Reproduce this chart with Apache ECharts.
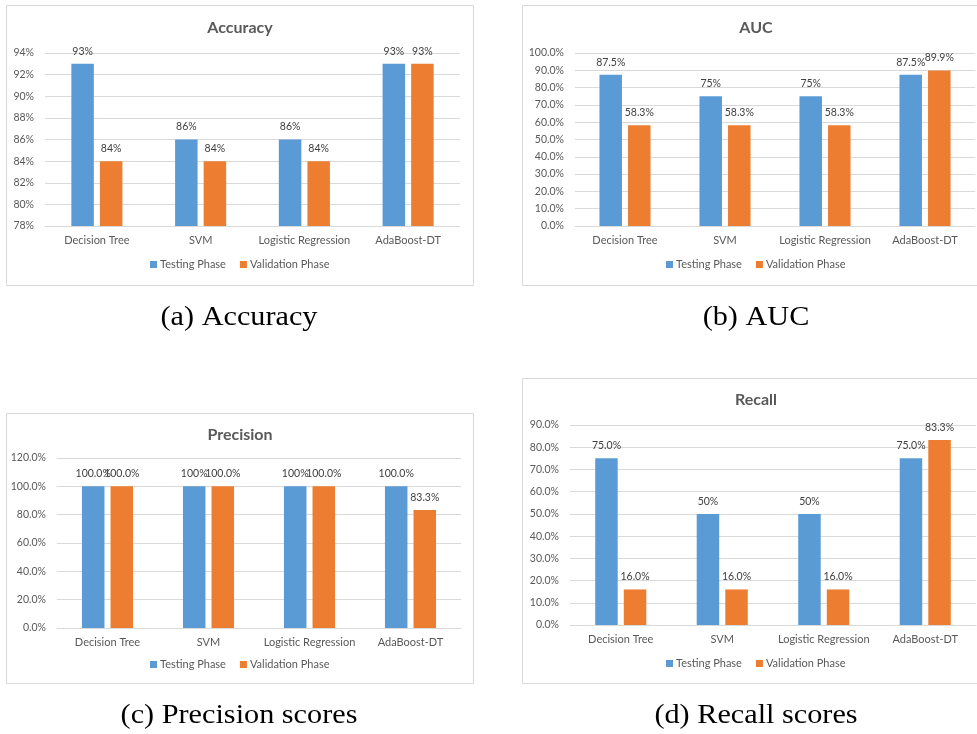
<!DOCTYPE html>
<html>
<head>
<meta charset="utf-8">
<title>Model evaluation metrics</title>
<script src="https://cdn.jsdelivr.net/npm/echarts@6/dist/echarts.min.js"></script>
<style>
  html, body { margin: 0; padding: 0; background: #ffffff; }
  #chart { width: 977px; height: 734px; }
</style>
</head>
<body>
<div id="chart"></div>
<script>
// Models compared in every panel
const categories = ['Decision Tree', 'SVM', 'Logistic Regression', 'AdaBoost-DT'];
const seriesNames = ['Testing Phase', 'Validation Phase'];

// Accuracy (%)
const accuracyTesting = [93, 86, 86, 93];
const accuracyValidation = [84, 84, 84, 93];
const accuracyTestingDecimals = [0, 0, 0, 0];
const accuracyValidationDecimals = [0, 0, 0, 0];

// AUC (%)
const aucTesting = [87.5, 75, 75, 87.5];
const aucValidation = [58.3, 58.3, 58.3, 89.9];
const aucTestingDecimals = [1, 0, 0, 1];
const aucValidationDecimals = [1, 1, 1, 1];

// Precision (%)
const precisionTesting = [100, 100, 100, 100];
const precisionValidation = [100, 100, 100, 83.3];
const precisionTestingDecimals = [1, 0, 0, 1];
const precisionValidationDecimals = [1, 1, 1, 1];

// Recall (%)
const recallTesting = [75, 50, 50, 75];
const recallValidation = [16, 16, 16, 83.3];
const recallTestingDecimals = [1, 0, 0, 1];
const recallValidationDecimals = [1, 1, 1, 1];

// Value-axis ranges: [min, max, interval, tick decimals]
const accuracyAxis = [78, 94, 2, 0];
const aucAxis = [0, 100, 10, 1];
const precisionAxis = [0, 120, 20, 1];
const recallAxis = [0, 90, 10, 1];

const panelTitles = ['Accuracy', 'AUC', 'Precision', 'Recall'];
const captions = ['(a) Accuracy', '(b) AUC', '(c) Precision scores', '(d) Recall scores'];

const BLUE = '#5b9bd5';
const ORANGE = '#ed7d31';
const TEXT = '#595959';
const LABEL = '#404040';
const GRIDLINE = '#d9d9d9';
const FONT = 'Lato, "Open Sans", sans-serif';

// Layout of each panel: plot grid, title / legend / caption positions and frame
const panels = [
  { grid: { left: 45, top: 53, width: 415, height: 173 }, titleX: 240, titleY: 20, legendY: 259,
    captionX: 239, captionY: 318, frame: [6, 5, 467, 280] },
  { grid: { left: 575, top: 53, width: 400, height: 173 }, titleX: 756, titleY: 20, legendY: 259,
    captionX: 756, captionY: 318, frame: [522, 5, 470, 280] },
  { grid: { left: 57, top: 458, width: 404, height: 170 }, titleX: 240, titleY: 427, legendY: 659,
    captionX: 239, captionY: 716, frame: [6, 413, 467, 270] },
  { grid: { left: 570, top: 425, width: 406, height: 200 }, titleX: 756, titleY: 392, legendY: 658,
    captionX: 756, captionY: 716, frame: [522, 378, 470, 305] }
];

const panelData = [
  { t: accuracyTesting, v: accuracyValidation, td: accuracyTestingDecimals, vd: accuracyValidationDecimals, axis: accuracyAxis },
  { t: aucTesting, v: aucValidation, td: aucTestingDecimals, vd: aucValidationDecimals, axis: aucAxis },
  { t: precisionTesting, v: precisionValidation, td: precisionTestingDecimals, vd: precisionValidationDecimals, axis: precisionAxis },
  { t: recallTesting, v: recallValidation, td: recallTestingDecimals, vd: recallValidationDecimals, axis: recallAxis }
];

const option = {
  backgroundColor: '#ffffff',
  animation: false,
  textStyle: { fontFamily: FONT },
  title: [],
  legend: [],
  grid: [],
  xAxis: [],
  yAxis: [],
  series: [],
  graphic: []
};

function barSeries(name, color, values, decimals, idx) {
  return {
    name: name,
    type: 'bar',
    xAxisIndex: idx,
    yAxisIndex: idx,
    data: values,
    barWidth: 22.5,
    barGap: '27%',
    itemStyle: { color: color },
    label: {
      show: true,
      position: 'top',
      distance: 7,
      color: LABEL,
      fontSize: 10.5,
      fontFamily: FONT,
      formatter: p => values[p.dataIndex].toFixed(decimals[p.dataIndex]) + '%'
    }
  };
}

panels.forEach((p, i) => {
  const d = panelData[i];
  option.grid.push(Object.assign({ containLabel: false }, p.grid));
  option.title.push({
    text: panelTitles[i],
    left: p.titleX,
    top: p.titleY,
    textAlign: 'center',
    padding: 0,
    textStyle: { color: TEXT, fontSize: 16, fontWeight: 'bold', fontFamily: FONT }
  });
  option.legend.push({
    data: seriesNames,
    left: p.titleX - 90,
    top: p.legendY,
    width: 190,
    padding: 0,
    itemWidth: 7,
    itemHeight: 7,
    itemGap: 14,
    icon: 'rect',
    textStyle: { color: TEXT, fontSize: 11, fontFamily: FONT, padding: [0, 0, 0, -2] }
  });
  option.xAxis.push({
    type: 'category',
    gridIndex: i,
    data: categories,
    axisLine: { show: true, lineStyle: { color: GRIDLINE, width: 1 } },
    axisTick: { show: false },
    axisLabel: { color: TEXT, fontSize: 11, margin: 9, fontFamily: FONT, interval: 0 }
  });
  option.yAxis.push({
    type: 'value',
    gridIndex: i,
    min: d.axis[0],
    max: d.axis[1],
    interval: d.axis[2],
    axisLine: { show: false },
    axisTick: { show: false },
    splitLine: { lineStyle: { color: GRIDLINE, width: 1 } },
    axisLabel: {
      color: TEXT, fontSize: 10.5, margin: 11, fontFamily: FONT,
      formatter: v => v.toFixed(d.axis[3]) + '%'
    }
  });
  option.series.push(barSeries(seriesNames[0], BLUE, d.t, d.td, i));
  option.series.push(barSeries(seriesNames[1], ORANGE, d.v, d.vd, i));

  option.graphic.push({
    type: 'rect',
    silent: true,
    z: -10,
    shape: { x: p.frame[0] + 0.5, y: p.frame[1] + 0.5, width: p.frame[2], height: p.frame[3] },
    style: { fill: null, stroke: GRIDLINE, lineWidth: 1 }
  });
  // Sub-figure caption below the panel
  option.graphic.push({
    type: 'text',
    silent: true,
    x: p.captionX,
    y: p.captionY,
    scaleX: 1.08,
    style: {
      text: captions[i],
      fill: '#000000',
      font: '28px "Liberation Serif", "DejaVu Serif", serif',
      align: 'center',
      verticalAlign: 'middle'
    }
  });
});

const chart = echarts.init(document.getElementById('chart'), null, { renderer: 'canvas' });
chart.setOption(option);
</script>
</body>
</html>
